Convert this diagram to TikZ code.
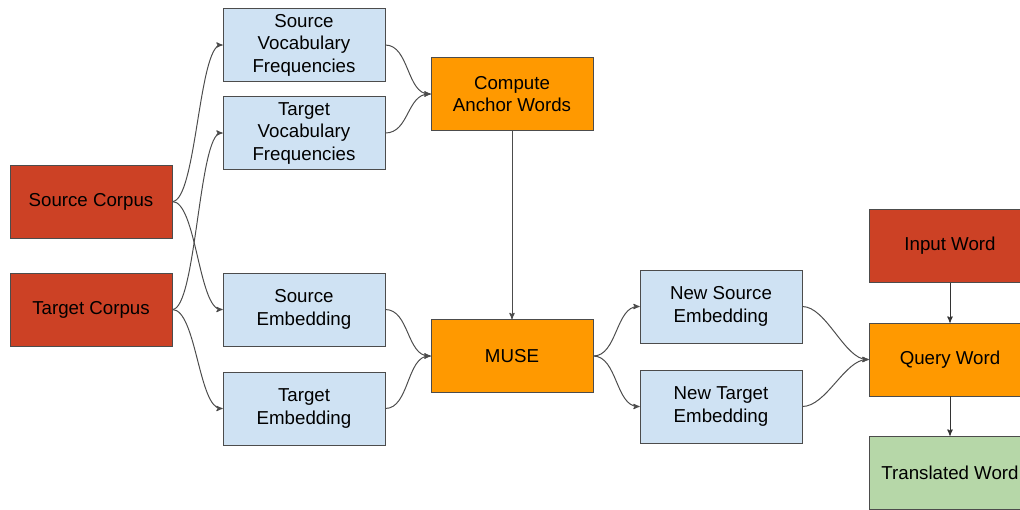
\documentclass[tikz,border=0pt]{standalone}
\usepackage{fontspec}
\setmainfont{Liberation Sans}
\usetikzlibrary{arrows}
\definecolor{corpusred}{HTML}{CC4125}
\definecolor{museorange}{HTML}{FF9900}
\definecolor{vocabblue}{HTML}{CFE2F3}
\definecolor{outgreen}{HTML}{B6D7A8}

\begin{document}
\begin{tikzpicture}[->,>=stealth',x=0.025cm,y=-0.025cm,
main node/.style={rectangle,draw=black!70,fill=vocabblue,minimum width=4.05cm,
minimum height=1.825cm,align=center,inner sep=2pt,
font=\fontsize{13.3}{16}\selectfont},
flow/.style={draw=black!70,line width=0.7pt,out=0,in=180,distance=0.6cm}]
\useasboundingbox (0,0) rectangle (1020,509);
\clip (0,0) rectangle (1020,509);

% Corpora
  \node[main node,fill=corpusred] (srccorpus) at (91,201.5) {Source Corpus};
  \node[main node,fill=corpusred] (tgtcorpus) at (91,309.5) {Target Corpus};

% Frequencies and embeddings
  \node[main node] (srcvocab) at (304,45) {Source\\Vocabulary\\Frequencies};
  \node[main node] (tgtvocab) at (304,133) {Target\\Vocabulary\\Frequencies};
  \node[main node] (srcemb) at (304,309.5) {Source\\Embedding};
  \node[main node] (tgtemb) at (304,408.5) {Target\\Embedding};

  \path
    (srccorpus.east) edge [flow] (srcvocab.west)
    (srccorpus.east) edge [flow] (srcemb.west)
    (tgtcorpus.east) edge [flow] (tgtvocab.west)
    (tgtcorpus.east) edge [flow] (tgtemb.west);

% Anchors and MUSE
  \node[main node,fill=museorange] (anchor) at (512,94) {Compute\\Anchor Words};
  \node[main node,fill=museorange] (muse) at (512,356) {MUSE};

  \path
    (srcvocab.east) edge [flow] (anchor.west)
    (tgtvocab.east) edge [flow] (anchor.west)
    (srcemb.east) edge [flow] (muse.west)
    (tgtemb.east) edge [flow] (muse.west)
    (anchor) edge [draw=black!70,line width=0.7pt] (muse);

% New embeddings
  \node[main node] (newsrc) at (721,306.5) {New Source\\Embedding};
  \node[main node] (newtgt) at (721,406.5) {New Target\\Embedding};

  \path
    (muse.east) edge [flow] (newsrc.west)
    (muse.east) edge [flow] (newtgt.west);

% Query side
  \node[main node,fill=corpusred] (input) at (950,246) {Input Word};
  \node[main node,fill=museorange] (query) at (950,359.5) {Query Word};
  \node[main node,fill=outgreen] (translated) at (950,472.5) {Translated Word};

  \path
    (newsrc.east) edge [flow] (query.west)
    (newtgt.east) edge [flow] (query.west)
    (input) edge [draw=black!80,line width=0.7pt] (query)
    (query) edge [draw=black!80,line width=0.7pt] (translated);

\end{tikzpicture}
\end{document}
